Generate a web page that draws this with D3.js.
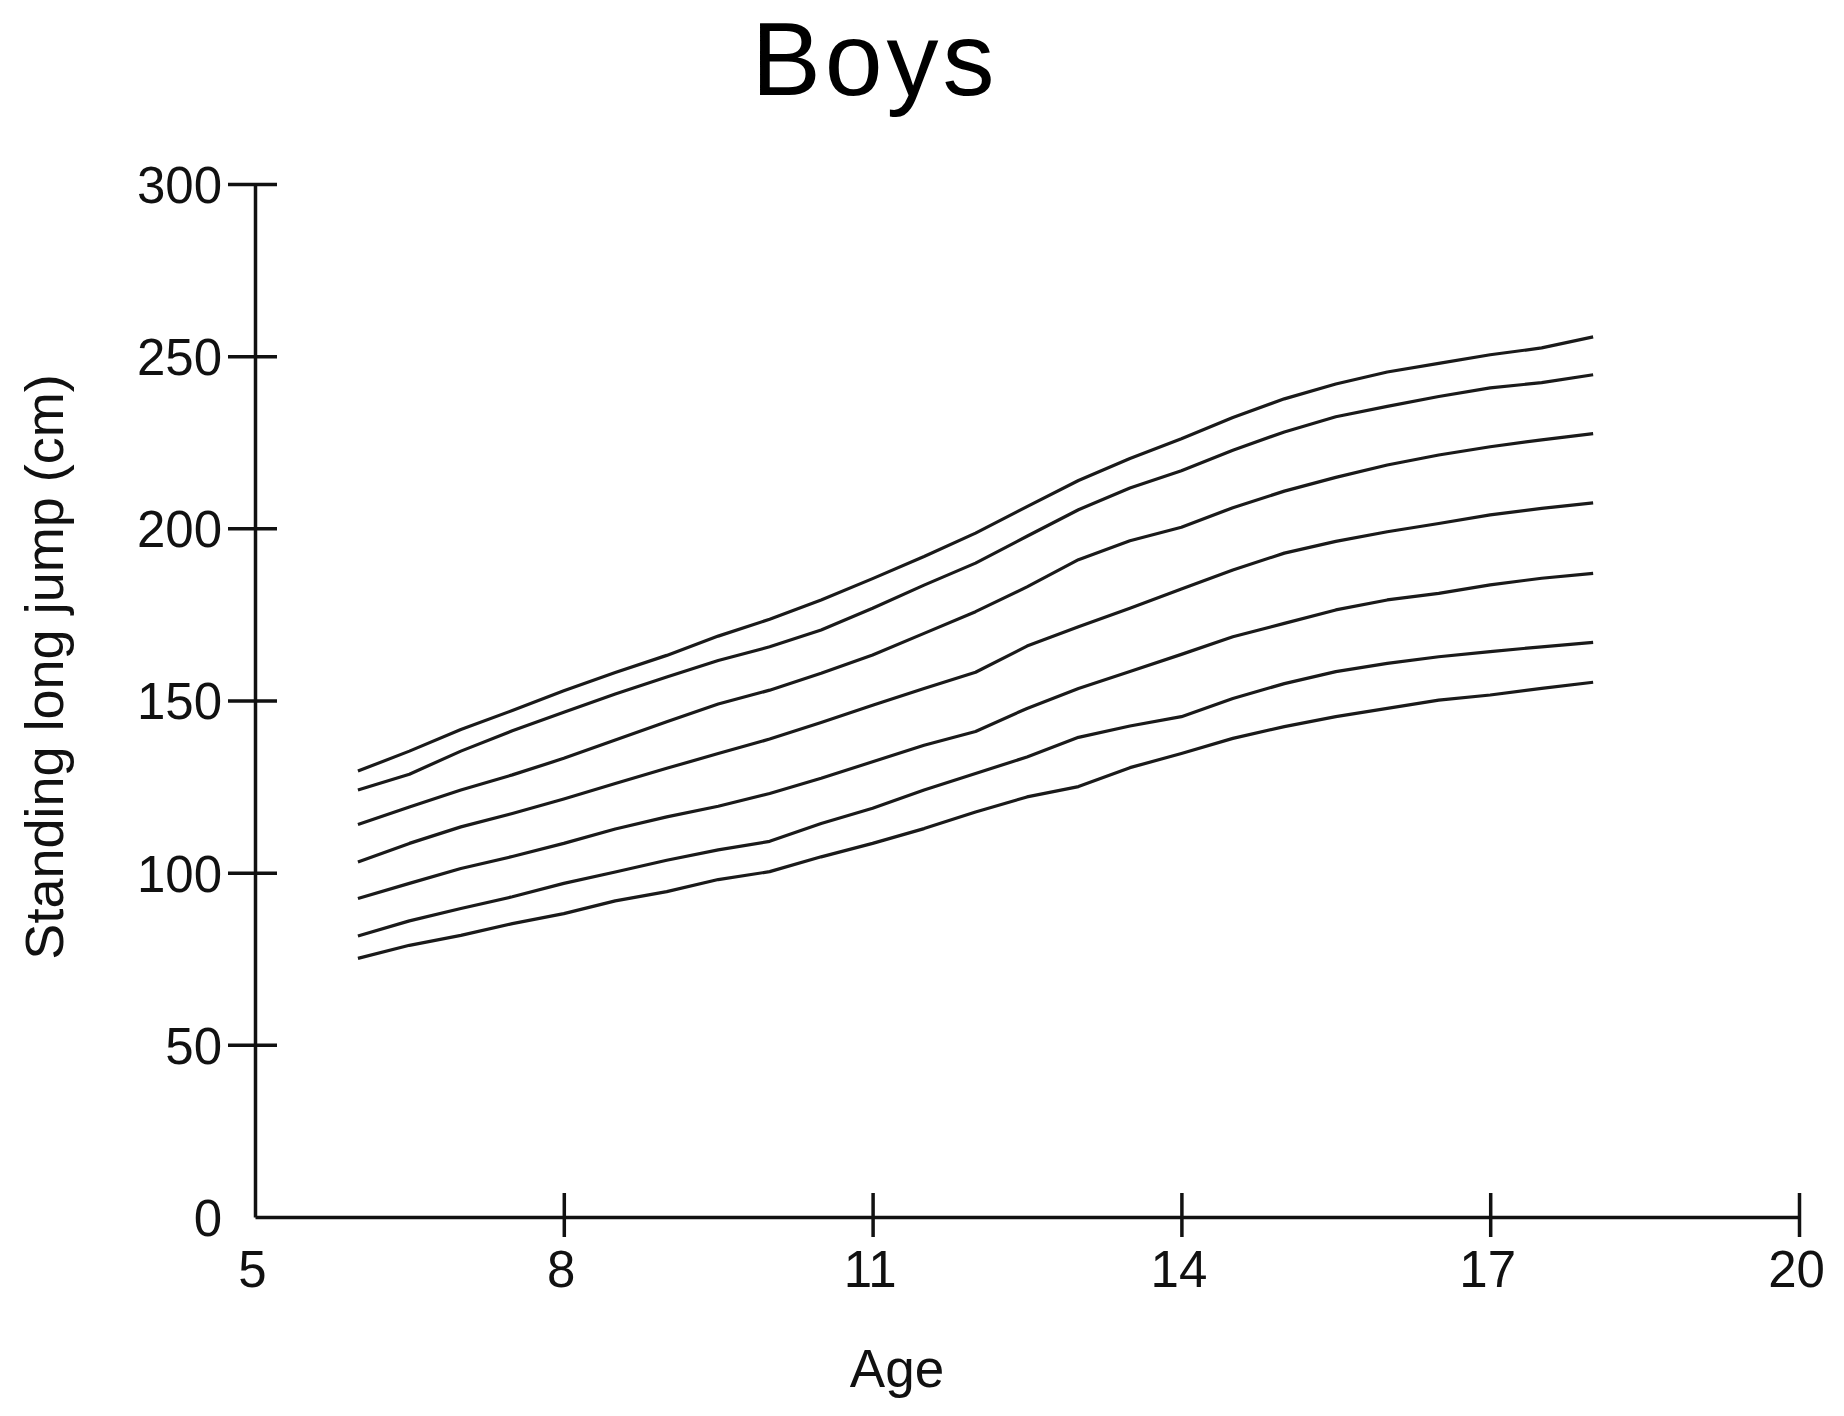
<!DOCTYPE html>
<html>
<head>
<meta charset="utf-8">
<script src="https://cdn.jsdelivr.net/npm/d3@7"></script>
<style>
  html, body { margin: 0; padding: 0; background: #fff; }
  svg { display: block; font-family: "Liberation Sans", Arial, sans-serif; }
</style>
</head>
<body>
<svg id="chart" width="1844" height="1416"></svg>
<script>
// Ages (years) at which the percentile curves were read
const ages = [6, 6.5, 7, 7.5, 8, 8.5, 9, 9.5, 10, 10.5, 11, 11.5, 12,
  12.5, 13, 13.5, 14, 14.5, 15, 15.5, 16, 16.5, 17, 17.5, 18];

// Standing long jump (cm), one array per curve, top to bottom
const curve1 = [129.5, 135.3, 141.6, 147.1, 152.8, 158.1, 163.1, 168.7, 173.6, 179.2, 185.4, 191.8, 198.6,
  206.3, 213.9, 220.3, 226.0, 232.2, 237.6, 241.9, 245.4, 247.9, 250.4, 252.4, 255.6];
const curve2 = [124.0, 128.6, 135.3, 141.2, 146.6, 151.9, 156.8, 161.6, 165.6, 170.5, 176.8, 183.5, 189.9,
  197.7, 205.4, 211.7, 216.7, 222.7, 228.0, 232.4, 235.4, 238.3, 240.8, 242.3, 244.6];
const curve3 = [114.0, 119.1, 124.0, 128.4, 133.2, 138.5, 143.8, 149.0, 153.0, 157.9, 163.2, 169.5, 175.8,
  183.0, 190.9, 196.4, 200.3, 206.0, 210.8, 214.8, 218.4, 221.3, 223.7, 225.7, 227.5];
const curve4 = [103.1, 108.5, 113.3, 117.2, 121.4, 125.9, 130.3, 134.6, 138.8, 143.6, 148.6, 153.5, 158.2,
  165.8, 171.4, 176.8, 182.4, 187.9, 192.8, 196.2, 199.0, 201.4, 203.9, 205.8, 207.4];
const curve5 = [92.5, 96.9, 101.2, 104.7, 108.5, 112.7, 116.2, 119.3, 123.0, 127.4, 132.2, 137.0, 141.0,
  147.7, 153.5, 158.4, 163.4, 168.5, 172.4, 176.3, 179.2, 181.1, 183.6, 185.5, 186.9];
const curve6 = [81.6, 86.0, 89.6, 93.0, 96.9, 100.2, 103.6, 106.6, 109.1, 114.3, 118.7, 124.0, 128.8,
  133.6, 139.3, 142.6, 145.3, 150.6, 154.9, 158.4, 160.8, 162.7, 164.2, 165.6, 166.9];
const curve7 = [75.1, 78.9, 81.8, 85.2, 88.1, 91.8, 94.5, 98.0, 100.3, 104.6, 108.5, 112.8, 117.6,
  122.0, 125.0, 130.5, 134.6, 139.0, 142.4, 145.3, 147.7, 150.1, 151.6, 153.5, 155.3];

const curves = [curve1, curve2, curve3, curve4, curve5, curve6, curve7];

// Axis ticks and labels
const xTicks = [5, 8, 11, 14, 17, 20];
const yTicks = [0, 50, 100, 150, 200, 250, 300];
const titleText = 'Boys';
const xLabel = 'Age';
const yLabel = 'Standing long jump (cm)';

const ink = '#111';
const svg = d3.select('#chart');

// Plot frame (pixels)
const plotLeft = 255;
const plotRight = 1799;
const plotTop = 184;
const plotBottom = 1217;

const x = d3.scaleLinear().domain([5, 20]).range([plotLeft, plotRight]);
const y = d3.scaleLinear().domain([0, 300]).range([plotBottom, plotTop]);

// Y axis: ticks cross the axis line
const yAxis = svg.append('g')
  .attr('transform', `translate(${plotLeft},0)`)
  .call(d3.axisLeft(y).tickValues(yTicks).tickSize(27).tickSizeOuter(0).tickFormat(d3.format('d')));

yAxis.select('.domain').attr('stroke', ink).attr('stroke-width', 3.5);
yAxis.selectAll('.tick line')
  .attr('x1', 22)
  .attr('stroke', ink)
  .attr('stroke-width', 3.5)
  .filter((d) => d === 0)
  .remove();
yAxis.selectAll('.tick text')
  .attr('x', -33)
  .attr('dy', '0.36em')
  .attr('fill', ink)
  .style('font-size', '51px');

// X axis
const xAxis = svg.append('g')
  .attr('transform', `translate(0,${plotBottom})`)
  .call(d3.axisBottom(x).tickValues(xTicks).tickSize(20).tickSizeOuter(0).tickFormat(d3.format('d')));

xAxis.select('.domain').attr('stroke', ink).attr('stroke-width', 3.5);
xAxis.selectAll('.tick line')
  .attr('y1', -24)
  .attr('stroke', ink)
  .attr('stroke-width', 3.5)
  .filter((d) => d === 5)
  .remove();
xAxis.selectAll('.tick text')
  .attr('y', 70)
  .attr('dy', 0)
  .attr('dx', -3)
  .attr('fill', ink)
  .style('font-size', '51px');

// Percentile curves
const line = d3.line()
  .x((d, i) => x(ages[i]))
  .y((d) => y(d));

svg.append('g')
  .selectAll('path')
  .data(curves)
  .enter()
  .append('path')
  .attr('d', line)
  .attr('fill', 'none')
  .attr('stroke', '#1a1a1a')
  .attr('stroke-width', 3.2)
  .attr('stroke-linejoin', 'round');

// Title and axis labels
svg.append('text')
  .attr('x', 875)
  .attr('y', 95)
  .attr('text-anchor', 'middle')
  .attr('fill', '#000')
  .style('font-size', '104px')
  .style('letter-spacing', '4px')
  .text(titleText);

svg.append('text')
  .attr('x', 897)
  .attr('y', 1387)
  .attr('text-anchor', 'middle')
  .attr('fill', ink)
  .style('font-size', '53px')
  .text(xLabel);

svg.append('text')
  .attr('transform', 'translate(63,667) rotate(-90)')
  .attr('text-anchor', 'middle')
  .attr('fill', ink)
  .style('font-size', '54px')
  .text(yLabel);
</script>
</body>
</html>
